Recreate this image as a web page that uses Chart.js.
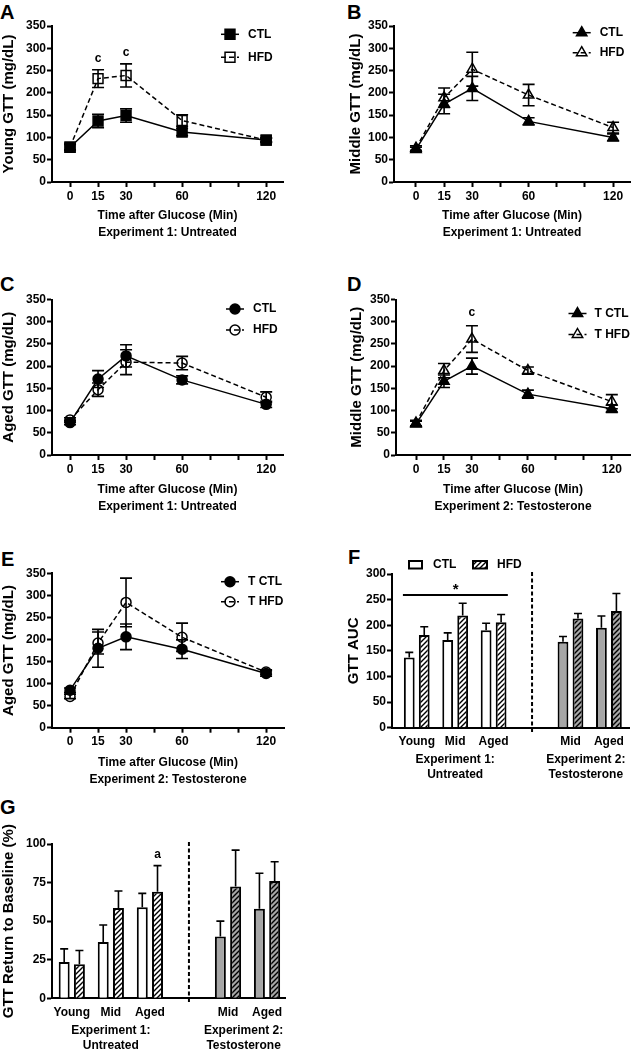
<!DOCTYPE html>
<html><head><meta charset="utf-8">
<script src="https://cdn.jsdelivr.net/npm/chart.js@4.4.1/dist/chart.umd.min.js"></script>
<style>
html,body{margin:0;padding:0;background:#fff;}
body{width:631px;height:1050px;position:relative;overflow:hidden;font-family:"Liberation Sans",Arial,sans-serif;}
canvas{position:absolute;}
.lt{position:absolute;font:bold 20px/20px "Liberation Sans",Arial,sans-serif;color:#000;}
</style></head><body>
<div class="lt" style="left:0px;top:2px">A</div>
<div class="lt" style="left:347px;top:2px">B</div>
<div class="lt" style="left:0px;top:274px">C</div>
<div class="lt" style="left:347px;top:274px">D</div>
<div class="lt" style="left:1px;top:549px">E</div>
<div class="lt" style="left:348px;top:547px">F</div>
<div class="lt" style="left:0px;top:797px">G</div>

<canvas id="cA" width="315" height="245" style="left:0px;top:0px"></canvas>
<canvas id="cB" width="284" height="245" style="left:347px;top:0px"></canvas>
<canvas id="cC" width="315" height="245" style="left:0px;top:275px"></canvas>
<canvas id="cD" width="283" height="245" style="left:348px;top:275px"></canvas>
<canvas id="cE" width="315" height="245" style="left:0px;top:548px"></canvas>
<canvas id="cF" width="286" height="245" style="left:345px;top:548px"></canvas>
<canvas id="cG" width="315" height="260" style="left:0px;top:790px"></canvas>
<script>
// ---------- DATA ----------
// GTT time course (minutes) and their slots on the segmented (GraphPad-style) x axis
const timeLabels = ['0', '15', '30', '60', '120'];
const timeSlots = [0, 1, 2, 4, 7];
const axisSlots = [0, 1, 2, 3, 4, 5, 6, 7];

// A: Young, Experiment 1
const youngCTL = [78, 137, 149, 112, 94];
const youngCTLerr = [7, 15, 15, 8, 5];
const youngHFD = [78, 232, 239, 138, 94];
const youngHFDerr = [6, 20, 26, 13, 4];
// B: Middle, Experiment 1
const middleCTL = [73, 175, 210, 136, 100];
const middleCTLerr = [5, 22, 27, 8, 8];
const middleHFD = [76, 189, 253, 195, 122];
const middleHFDerr = [5, 22, 38, 24, 12];
// C: Aged, Experiment 1
const agedCTL = [73, 171, 223, 169, 114];
const agedCTLerr = [5, 19, 25, 9, 7];
const agedHFD = [79, 147, 209, 207, 130];
const agedHFDerr = [5, 15, 28, 15, 12];
// D: Middle, Experiment 2 (testosterone)
const middleTCTL = [70, 166, 200, 137, 104];
const middleTCTLerr = [6, 14, 18, 9, 8];
const middleTHFD = [72, 190, 261, 190, 120];
const middleTHFDerr = [6, 16, 30, 8, 16];
// E: Aged, Experiment 2 (testosterone)
const agedTCTL = [85, 180, 206, 178, 123];
const agedTCTLerr = [5, 43, 29, 21, 6];
const agedTHFD = [71, 192, 284, 205, 126];
const agedTHFDerr = [5, 25, 55, 32, 5];

// Bar panels: groups and their slots (slot 3 is the gap with the dashed divider)
const barGroups = ['Young', 'Mid', 'Aged', 'Mid', 'Aged'];
const barSlots = [0, 1, 2, 4, 5];
const barExperiment = [1, 1, 1, 2, 2];
// F: GTT AUC
const aucCTL = [137, 171, 190, 168, 195];
const aucCTLerr = [10, 14, 14, 10, 23];
const aucHFD = [181, 219, 206, 213, 228];
const aucHFDerr = [16, 24, 15, 10, 34];
// G: GTT return to baseline (%)
const rtbCTL = [23.5, 36.5, 59, 40, 58];
const rtbCTLerr = [8.5, 11, 9, 10, 23];
const rtbHFD = [22, 58.5, 69, 72.5, 76];
const rtbHFDerr = [9, 11, 17, 23.5, 12.5];

// ---------- STYLE / HELPERS ----------
const FONT = '"Liberation Sans", Arial, Helvetica, sans-serif';
const GRAY = '#a6a6a6';
Chart.defaults.font.family = FONT;
Chart.defaults.font.weight = 'bold';
Chart.defaults.color = '#000';
Chart.defaults.animation = false;

function markerPath(ctx, style, r, x, y) {
  ctx.beginPath();
  if (style === 'rect') {
    const s = Math.SQRT1_2 * r;
    ctx.rect(x - s, y - s, 2 * s, 2 * s);
  } else if (style === 'triangle') {
    ctx.moveTo(x, y - r);
    ctx.lineTo(x + 0.866 * r, y + 0.5 * r);
    ctx.lineTo(x - 0.866 * r, y + 0.5 * r);
    ctx.closePath();
  } else {
    ctx.arc(x, y, r, 0, Math.PI * 2);
  }
}

const extras = {
  id: 'extras',
  afterDatasetsDraw(chart, args, o) {
    const ctx = chart.ctx, xs = chart.scales.x, ys = chart.scales.y, ca = chart.chartArea;
    ctx.save();
    ctx.strokeStyle = '#000';
    ctx.fillStyle = '#000';
    // dashed divider
    (o.dividers || []).forEach(d => {
      const x = xs.getPixelForValue(d);
      ctx.beginPath();
      ctx.setLineDash([4, 2.5]);
      ctx.lineWidth = 2;
      ctx.moveTo(x, ca.top - 2);
      ctx.lineTo(x, ca.bottom + 5);
      ctx.stroke();
    });
    ctx.setLineDash([]);
    // error bars
    const cap = o.cap || 12;
    chart.data.datasets.forEach((ds, di) => {
      if (!ds.errors) return;
      const meta = chart.getDatasetMeta(di);
      meta.data.forEach((el, i) => {
        const v = ds.data[i].y, e = ds.errors[i];
        if (v == null || e == null) return;
        const x = el.x;
        const yt = ys.getPixelForValue(v + e);
        const yb = ys.getPixelForValue(o.upOnly ? v : v - e);
        ctx.beginPath();
        ctx.lineWidth = 1.6;
        ctx.moveTo(x, yb); ctx.lineTo(x, yt);
        ctx.moveTo(x - cap / 2, yt); ctx.lineTo(x + cap / 2, yt);
        if (!o.upOnly) { ctx.moveTo(x - cap / 2, yb); ctx.lineTo(x + cap / 2, yb); }
        ctx.stroke();
      });
    });
    // horizontal significance lines
    (o.hlines || []).forEach(h => {
      ctx.beginPath();
      ctx.lineWidth = 2;
      const y = ys.getPixelForValue(h.y);
      ctx.moveTo(xs.getPixelForValue(h.x1), y);
      ctx.lineTo(xs.getPixelForValue(h.x2), y);
      ctx.stroke();
    });
    // text annotations
    ctx.textAlign = 'center';
    ctx.textBaseline = 'middle';
    (o.texts || []).forEach(t => {
      ctx.font = 'bold ' + (t.size || 12) + 'px ' + FONT;
      let x;
      if (t.ds != null) x = chart.getDatasetMeta(t.ds).data[t.index].x;
      else x = xs.getPixelForValue(t.x);
      ctx.fillText(t.text, x, ys.getPixelForValue(t.y));
    });
    // group labels under the category axis
    ctx.font = 'bold 12px ' + FONT;
    (o.groups || []).forEach(g => {
      const x = xs.getPixelForValue(g.x);
      g.lines.forEach((ln, k) => ctx.fillText(ln, x, ca.bottom + g.dy[k]));
    });
    // line legend
    if (o.legend) {
      o.legend.forEach(it => {
        const ds = chart.data.datasets[it.ds];
        ctx.beginPath();
        ctx.lineWidth = 1.5;
        ctx.setLineDash(ds.borderDash || []);
        ctx.moveTo(it.x - 9, it.y); ctx.lineTo(it.x + 9, it.y);
        ctx.stroke();
        ctx.setLineDash([]);
        markerPath(ctx, ds.pointStyle, ds.pointRadius, it.x, it.y);
        ctx.fillStyle = ds.pointBackgroundColor;
        ctx.fill();
        ctx.lineWidth = ds.pointBorderWidth;
        ctx.stroke();
        ctx.fillStyle = '#000';
        ctx.font = 'bold 12px ' + FONT;
        ctx.textAlign = 'left';
        ctx.fillText(it.label, it.x + it.tx, it.y);
      });
    }
    // box legend (bar panels)
    if (o.boxLegend) {
      o.boxLegend.forEach(it => {
        ctx.fillStyle = it.fill;
        ctx.fillRect(it.x, it.y, it.w, it.h);
        ctx.lineWidth = 2;
        ctx.strokeRect(it.x, it.y, it.w, it.h);
        ctx.fillStyle = '#000';
        ctx.font = 'bold 12px ' + FONT;
        ctx.textAlign = 'left';
        ctx.fillText(it.label, it.tx, it.y + it.h / 2);
      });
    }
    ctx.restore();
  }
};
Chart.register(extras);

function yAxis(max, step, title, width) {
  return {
    type: 'linear', min: 0, max: max,
    ticks: { stepSize: step, font: { size: 12, weight: 'bold' }, color: '#000', padding: 1 },
    grid: { drawOnChartArea: false, drawTicks: true, tickLength: 5, tickWidth: 2, tickColor: '#000' },
    border: { display: true, color: '#000', width: 2 },
    title: { display: true, text: title, font: { size: 15, weight: 'bold' }, color: '#000', padding: { top: 0, bottom: 0 } },
    afterFit(s) { s.width = width; }
  };
}

function timeAxis(min, max, titleLines, height, pb) {
  return {
    type: 'linear', min: min, max: max, offset: false,
    afterBuildTicks(s) { s.ticks = axisSlots.map(v => ({ value: v })); },
    ticks: {
      autoSkip: false, maxRotation: 0, font: { size: 12, weight: 'bold' }, color: '#000', padding: 2,
      callback(v) { const k = timeSlots.indexOf(v); return k >= 0 ? timeLabels[k] : ''; }
    },
    grid: { drawOnChartArea: false, drawTicks: true, tickLength: 5, tickWidth: 2, tickColor: '#000', offset: false },
    border: { display: true, color: '#000', width: 2 },
    title: { display: true, text: titleLines, font: { size: 12, weight: 'bold', lineHeight: '17px' }, color: '#000', padding: { top: 0, bottom: pb } },
    afterFit(s) { s.height = height; }
  };
}

function groupAxis(min, max, height) {
  return {
    type: 'linear', min: min, max: max, offset: false,
    afterBuildTicks(s) { s.ticks = barSlots.map(v => ({ value: v })); },
    ticks: {
      autoSkip: false, maxRotation: 0, font: { size: 12, weight: 'bold' }, color: '#000', padding: 7,
      callback(v) { const k = barSlots.indexOf(v); return k >= 0 ? barGroups[k] : ''; }
    },
    grid: { display: false, drawTicks: false, drawOnChartArea: false, offset: false },
    border: { display: true, color: '#000', width: 2 },
    afterFit(s) { s.height = height; }
  };
}

function lineSet(label, vals, errs, style, filled, dashed, radius) {
  return {
    label: label,
    data: timeSlots.map((s, i) => ({ x: s, y: vals[i] })),
    errors: errs,
    borderColor: '#000', borderWidth: 1.5, borderDash: dashed ? [5, 3] : [],
    pointStyle: style, pointRadius: radius, pointHoverRadius: radius,
    pointBackgroundColor: filled ? '#000' : 'rgba(0,0,0,0)',
    pointBorderColor: '#000', pointBorderWidth: 1.5,
    fill: false, tension: 0, clip: false
  };
}

function lineChart(id, g, sets, yTitle, xTitle, legend, texts) {
  return new Chart(document.getElementById(id), {
    type: 'line',
    data: { datasets: sets },
    options: {
      responsive: false, animation: false, devicePixelRatio: 1,
      layout: { autoPadding: false, padding: { left: 0, top: g.top, right: g.right, bottom: 0 } },
      scales: {
        x: timeAxis(g.xmin, g.xmax, xTitle, g.xh, g.pb),
        y: yAxis(350, 50, yTitle, g.yw)
      },
      plugins: {
        legend: { display: false }, tooltip: { enabled: false },
        extras: { cap: 12, legend: legend, texts: texts || [] }
      }
    }
  });
}

function hatchPattern(id, bg) {
  const s = 5, c = document.createElement('canvas');
  c.width = s; c.height = s;
  const g = c.getContext('2d');
  g.fillStyle = bg; g.fillRect(0, 0, s, s);
  g.strokeStyle = '#000'; g.lineWidth = 1.4;
  g.beginPath();
  g.moveTo(-1, s + 1); g.lineTo(s + 1, -1);
  g.moveTo(-1, 1); g.lineTo(1, -1);
  g.moveTo(s - 1, s + 1); g.lineTo(s + 1, s - 1);
  g.stroke();
  return document.getElementById(id).getContext('2d').createPattern(c, 'repeat');
}

function barChart(id, g, ctl, ctlErr, hfd, hfdErr, ymax, ystep, yTitle, extra) {
  const hW = hatchPattern(id, '#ffffff'), hG = hatchPattern(id, GRAY);
  const ctlFill = barExperiment.map(e => e === 1 ? '#ffffff' : GRAY);
  const hfdFill = barExperiment.map(e => e === 1 ? hW : hG);
  const mk = (label, vals, errs, fill) => ({
    label: label, data: barSlots.map((s, i) => ({ x: s, y: vals[i] })), errors: errs,
    backgroundColor: fill, borderColor: '#000', borderWidth: 2, borderSkipped: 'start',
    categoryPercentage: 0.78, barPercentage: 0.72
  });
  const ex = Object.assign({ cap: 8, upOnly: true, dividers: [3] }, extra);
  if (ex.boxLegend) ex.boxLegend[1].fill = hW;
  return new Chart(document.getElementById(id), {
    type: 'bar',
    data: { datasets: [mk('CTL', ctl, ctlErr, ctlFill), mk('HFD', hfd, hfdErr, hfdFill)] },
    options: {
      responsive: false, animation: false, devicePixelRatio: 1,
      layout: { autoPadding: false, padding: { left: 0, top: g.top, right: g.right, bottom: 0 } },
      scales: { x: groupAxis(g.xmin, g.xmax, g.xh), y: yAxis(ymax, ystep, yTitle, g.yw) },
      plugins: { legend: { display: false }, tooltip: { enabled: false }, extras: ex }
    }
  });
}

const exp1 = ['Time after Glucose (Min)', 'Experiment 1: Untreated'];
const exp2 = ['Time after Glucose (Min)', 'Experiment 2: Testosterone'];

// A
lineChart('cA', { top: 26, right: 32, yw: 52, xh: 63, pb: 3.5, xmin: -0.643, xmax: 7.6 },
  [lineSet('CTL', youngCTL, youngCTLerr, 'rect', true, false, 7),
   lineSet('HFD', youngHFD, youngHFDerr, 'rect', false, true, 7)],
  'Young GTT (mg/dL)', exp1,
  [{ ds: 0, x: 230, y: 34.3, label: 'CTL', tx: 18 }, { ds: 1, x: 230, y: 57.3, label: 'HFD', tx: 18 }],
  [{ x: 1, y: 276, text: 'c' }, { x: 2, y: 290, text: 'c' }]);
// B
lineChart('cB', { top: 26, right: 1, yw: 47, xh: 63, pb: 3.5, xmin: -0.78, xmax: 7.6 },
  [lineSet('CTL', middleCTL, middleCTLerr, 'triangle', true, false, 6),
   lineSet('HFD', middleHFD, middleHFDerr, 'triangle', false, true, 6)],
  'Middle GTT (mg/dL)', exp1,
  [{ ds: 0, x: 234.7, y: 32.7, label: 'CTL', tx: 18 }, { ds: 1, x: 234.7, y: 52.7, label: 'HFD', tx: 18 }]);
// C
lineChart('cC', { top: 24.5, right: 32, yw: 52, xh: 65, pb: 4.5, xmin: -0.643, xmax: 7.6 },
  [lineSet('CTL', agedCTL, agedCTLerr, 'circle', true, false, 5),
   lineSet('HFD', agedHFD, agedHFDerr, 'circle', false, true, 5)],
  'Aged GTT (mg/dL)', exp1,
  [{ ds: 0, x: 235, y: 34, label: 'CTL', tx: 18 }, { ds: 1, x: 235, y: 55, label: 'HFD', tx: 18 }]);
// D
lineChart('cD', { top: 24.5, right: 1, yw: 48, xh: 65, pb: 4.5, xmin: -0.715, xmax: 7.65 },
  [lineSet('T CTL', middleTCTL, middleTCTLerr, 'triangle', true, false, 6),
   lineSet('T HFD', middleTHFD, middleTHFDerr, 'triangle', false, true, 6)],
  'Middle GTT (mg/dL)', exp2,
  [{ ds: 0, x: 229.5, y: 38.5, label: 'T CTL', tx: 17 }, { ds: 1, x: 229.5, y: 59.5, label: 'T HFD', tx: 17 }],
  [{ x: 2, y: 320, text: 'c' }]);
// E
lineChart('cE', { top: 25.3, right: 31, yw: 52, xh: 65.3, pb: 4.5, xmin: -0.643, xmax: 7.64 },
  [lineSet('T CTL', agedTCTL, agedTCTLerr, 'circle', true, false, 5),
   lineSet('T HFD', agedTHFD, agedTHFDerr, 'circle', false, true, 5)],
  'Aged GTT (mg/dL)', exp2,
  [{ ds: 0, x: 230, y: 33.7, label: 'T CTL', tx: 18 }, { ds: 1, x: 230, y: 53.7, label: 'T HFD', tx: 18 }]);
// F
barChart('cF', { top: 26, right: 1, yw: 47, xh: 65.3, xmin: -0.644, xmax: 5.54 },
  aucCTL, aucCTLerr, aucHFD, aucHFDerr, 300, 50, 'GTT AUC', {
    boxLegend: [
      { x: 64, y: 13, w: 13, h: 7.5, fill: '#ffffff', label: 'CTL', tx: 88 },
      { x: 128, y: 13, w: 14, h: 7.5, fill: '#ffffff', label: 'HFD', tx: 152 }
    ],
    hlines: [{ x1: -0.36, x2: 2.37, y: 259 }],
    texts: [{ x: 1.01, y: 269, text: '*', size: 15 }],
    groups: [
      { x: 1.0, lines: ['Experiment 1:', 'Untreated'], dy: [31.6, 47.3] },
      { x: 4.4, lines: ['Experiment 2:', 'Testosterone'], dy: [31.6, 47.3] }
    ]
  });
// G
barChart('cG', { top: 54, right: 30, yw: 52, xh: 51.7, xmin: -0.507, xmax: 5.46 },
  rtbCTL, rtbCTLerr, rtbHFD, rtbHFDerr, 100, 25, 'GTT Return to Baseline (%)', {
    texts: [{ ds: 1, index: 2, y: 93, text: 'a' }],
    groups: [
      { x: 1.0, lines: ['Experiment 1:', 'Untreated'], dy: [32.7, 47.7] },
      { x: 4.4, lines: ['Experiment 2:', 'Testosterone'], dy: [32.7, 47.7] }
    ]
  });
</script>
</body></html>
